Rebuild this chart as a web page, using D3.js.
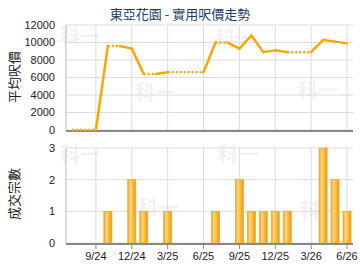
<!doctype html>
<html>
<head>
  <meta charset="utf8"/>
  <style>
    body { margin: 0; background: #fff; }
    text { font-family: "Liberation Sans", Arial, sans-serif; }
  </style>
</head>
<body>
  <svg width="360" height="270"></svg>
  <script src="https://d3js.org/d3.v7.min.js"></script>
  <script>
    // monthly data, 7/24 .. 6/26
    var months = ['7/24','8/24','9/24','10/24','11/24','12/24','1/25','2/25','3/25','4/25','5/25','6/25',
                  '7/25','8/25','9/25','10/25','11/25','12/25','1/26','2/26','3/26','4/26','5/26','6/26'];
    var prices = [0, 0, 0, 9600, 9600, 9300, 6400, 6400, 6600, 6600, 6600, 6600,
                  10000, 10000, 9300, 10800, 8900, 9100, 8900, 8900, 8900, 10300, 10100, 9900];
    var counts = [0, 0, 0, 1, 0, 2, 1, 0, 1, 0, 0, 0,
                  1, 0, 2, 1, 1, 1, 1, 0, 0, 3, 2, 1];
    var tickLabels = ['9/24','12/24','3/25','6/25','9/25','12/25','3/26','6/26'];
    var priceTicks = [0, 2000, 4000, 6000, 8000, 10000, 12000];
    var countTicks = [0, 1, 2, 3];

    var svg = d3.select('svg');
    var left = 66, right = 353;

    var x = d3.scaleLinear().domain([-0.5, months.length - 0.5]).range([left, right]);
    var yP = d3.scaleLinear().domain([0, 12000]).range([130, 25]);
    var yC = d3.scaleLinear().domain([0, 3]).range([243, 148]);
    var tickIdx = tickLabels.map(function(t) { return months.indexOf(t); });

    // gradient for bars
    var grad = svg.append('defs').append('linearGradient').attr('id', 'bar');
    [['0%', '#f0a018'], ['30%', '#ffd77a'], ['60%', '#fbbd45'], ['100%', '#ea9810']].forEach(function(s) {
      grad.append('stop').attr('offset', s[0]).attr('stop-color', s[1]);
    });

    // watermarks
    var marks = [[80, 44], [155, 100], [235, 46], [318, 98], [80, 162], [158, 215], [238, 162], [320, 218]];
    svg.append('g').selectAll('text').data(marks).join('text')
      .attr('x', function(d) { return d[0]; }).attr('y', function(d) { return d[1]; })
      .attr('text-anchor', 'middle').attr('font-size', 20).attr('font-weight', 'bold')
      .attr('fill', '#f2f2f2').style('font-family', '"Noto Sans CJK TC", sans-serif')
      .text('科一');

    function panel(y, ticks) {
      var g = svg.append('g');
      g.selectAll('.hg').data(ticks).join('line')
        .attr('x1', left).attr('x2', right)
        .attr('y1', function(d) { return y(d); }).attr('y2', function(d) { return y(d); })
        .attr('stroke', '#dcdcdc');
      g.selectAll('.vg').data(tickIdx).join('line')
        .attr('x1', function(d) { return x(d); }).attr('x2', function(d) { return x(d); })
        .attr('y1', y.range()[1]).attr('y2', y.range()[0])
        .attr('stroke', '#dcdcdc');
      g.append('line').attr('x1', left).attr('x2', left)
        .attr('y1', y.range()[1]).attr('y2', y.range()[0]).attr('stroke', '#bbb');
      g.selectAll('.yl').data(ticks).join('text')
        .attr('x', 55).attr('y', function(d) { return y(d); }).attr('dy', '0.35em')
        .attr('text-anchor', 'end').attr('font-size', 11).attr('fill', '#222')
        .text(function(d) { return d; });
      return g;
    }

    // price panel
    panel(yP, priceTicks);
    svg.append('line').attr('x1', left).attr('x2', right).attr('y1', 131).attr('y2', 131)
      .attr('stroke', '#888').attr('stroke-width', 2);

    var segs = d3.range(1, months.length).map(function(i) {
      return { a: i - 1, b: i, dotted: counts[i] === 0 };
    });
    svg.append('g').selectAll('line').data(segs).join('line')
      .attr('x1', function(d) { return x(d.a); }).attr('y1', function(d) { return yP(prices[d.a]); })
      .attr('x2', function(d) { return x(d.b); }).attr('y2', function(d) { return yP(prices[d.b]); })
      .attr('stroke', '#ffa500').attr('stroke-width', 2.5)
      .attr('stroke-linecap', function(d) { return d.dotted ? 'butt' : 'round'; })
      .attr('stroke-dasharray', function(d) { return d.dotted ? '2,2' : null; });

    // count panel
    panel(yC, countTicks);
    svg.append('g').selectAll('rect').data(counts.map(function(c, i) { return {i: i, c: c}; }).filter(function(d) { return d.c > 0; }))
      .join('rect')
      .attr('x', function(d) { return x(d.i) - 4; }).attr('width', 8)
      .attr('y', function(d) { return yC(d.c); })
      .attr('height', function(d) { return yC(0) - yC(d.c); })
      .attr('fill', 'url(#bar)').attr('stroke', '#f2a830').attr('stroke-width', 0.8);
    svg.append('line').attr('x1', left).attr('x2', right).attr('y1', 244).attr('y2', 244)
      .attr('stroke', '#888').attr('stroke-width', 2);
    svg.append('g').selectAll('line').data(tickIdx).join('line')
      .attr('x1', function(d) { return x(d); }).attr('x2', function(d) { return x(d); })
      .attr('y1', 244).attr('y2', 249).attr('stroke', '#888');
    svg.append('g').selectAll('text').data(tickLabels).join('text')
      .attr('x', function(d) { return x(months.indexOf(d)); }).attr('y', 260)
      .attr('text-anchor', 'middle').attr('font-size', 11).attr('fill', '#222')
      .text(function(d) { return d; });

    // titles
    svg.append('text').attr('x', 180).attr('y', 19).attr('text-anchor', 'middle')
      .attr('font-size', 13).attr('fill', '#1f3d6b')
      .style('font-family', '"Noto Sans CJK TC", sans-serif')
      .text('東亞花園 - 實用呎價走勢');
    [['平均呎價', 77], ['成交宗數', 194]].forEach(function(t) {
      svg.append('text').attr('transform', 'translate(14,' + t[1] + ') rotate(-90)')
        .attr('text-anchor', 'middle').attr('dy', '0.35em')
        .attr('font-size', 13).attr('fill', '#222')
        .style('font-family', '"Noto Sans CJK TC", sans-serif')
        .text(t[0]);
    });
  </script>
</body>
</html>
